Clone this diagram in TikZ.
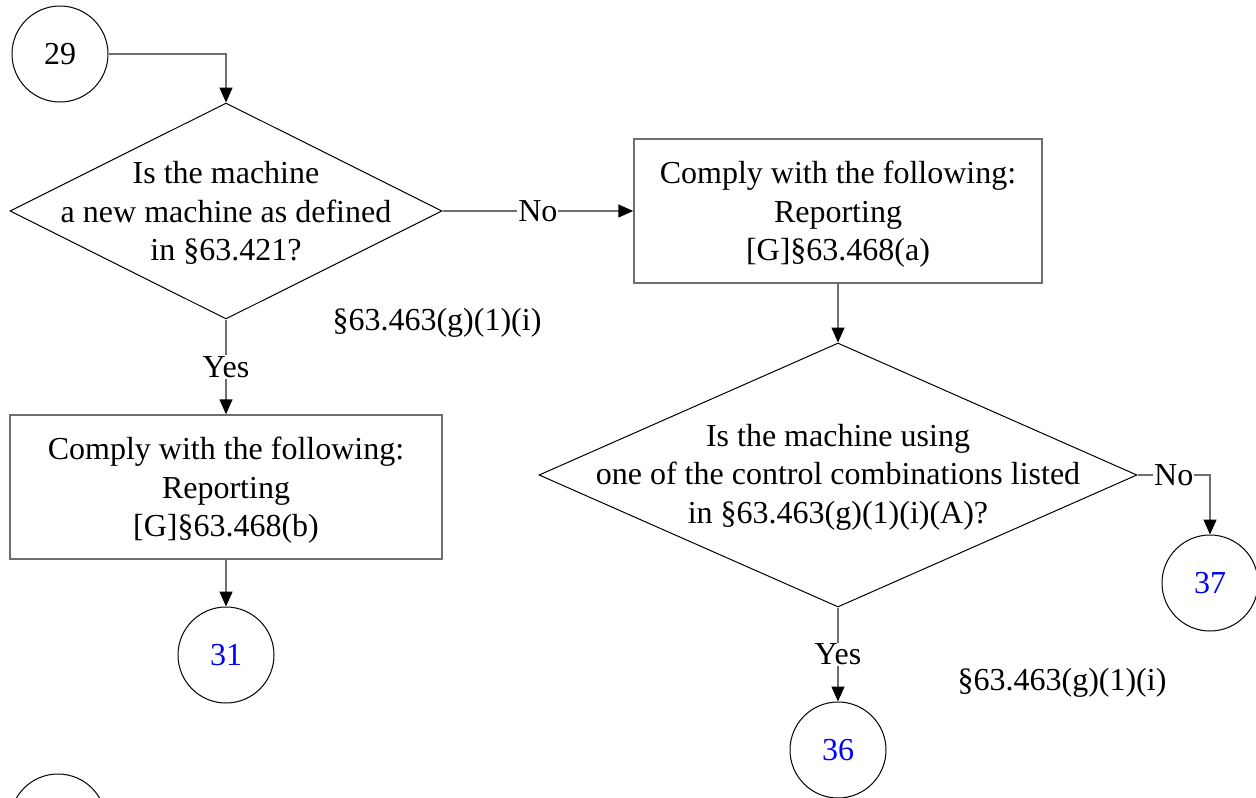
\documentclass[tikz,border=0pt]{standalone}
\usepackage{fontspec}
\setmainfont{Liberation Serif}
\usetikzlibrary{shapes.geometric,arrows.meta}
\definecolor{linegray}{RGB}{110,110,110}

\begin{document}
\begin{tikzpicture}[x=1pt, y=-1pt, font=\fontsize{32}{38.5}\selectfont, every node/.style={inner sep=0pt},
  conn/.style={circle, draw, line width=1pt, minimum size=96pt},
  decision/.style={diamond, draw, line width=1pt},
  action/.style={rectangle, draw=linegray, line width=1.5pt, minimum width=408pt, minimum height=144pt, align=center, text depth=-2pt},
  flow/.style={draw=linegray, line width=1.5pt, -{Triangle[length=15pt,width=13pt,color=black]}},
  edgelabel/.style={fill=white, inner sep=1pt}]
\useasboundingbox (0,0) rectangle (1256,798);
\node[conn] (c29) at (60,54) {29};
\node[decision, minimum width=432pt, minimum height=216pt] (newq) at (226,211) {};
\node[align=center, yshift=-2pt] (newqtext) at (newq) {Is the machine\\a new machine as defined\\in §63.421?};
\node[action] (rep_a) at (838,211) {Comply with the following:\\Reporting\\{[G]}§63.468(a)};
\node[action, minimum width=432pt] (rep_b) at (226,487) {Comply with the following:\\Reporting\\{[G]}§63.468(b)};
\node[decision, minimum width=598pt, minimum height=264pt] (combq) at (838,475) {};
\node[align=center, yshift=-2pt] (combqtext) at (combq) {Is the machine using\\one of the control combinations listed\\in §63.463(g)(1)(i)(A)?};
\node[conn, text=blue] (c31) at (226,655) {31};
\node[conn, text=blue] (c36) at (838,750) {36};
\node[conn, text=blue] (c37) at (1210,583) {37};
\node[conn] (c_next) at (58,822) {};
\node (cite_a) at (437,323) {§63.463(g)(1)(i)};
\node (cite_b) at (1062,683) {§63.463(g)(1)(i)};

\draw[flow] (c29.east) -| (newq.north);
\draw[flow] (newq.east) -- node[edgelabel] {No} (rep_a.west);
\draw[flow] (newq.south) -- node[edgelabel] {Yes} (rep_b.north);
\draw[flow] (rep_b.south) -- (c31.north);
\draw[flow] (rep_a.south) -- (combq.north);
\draw[flow] (combq.east) -| node[edgelabel, pos=0.25] {No} (c37.north);
\draw[flow] (combq.south) -- node[edgelabel] {Yes} (c36.north);
\end{tikzpicture}
\end{document}
